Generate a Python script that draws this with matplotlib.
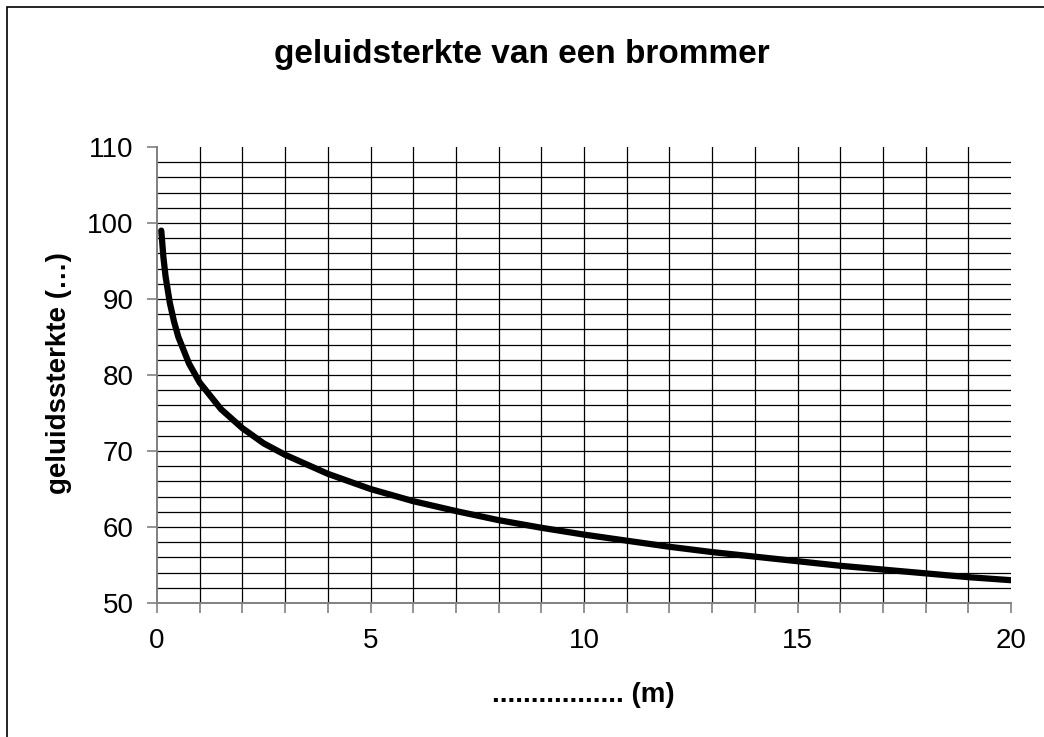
import matplotlib
matplotlib.use('Agg')
import matplotlib.pyplot as plt
from matplotlib.patches import Rectangle
import numpy as np

# afstand (m) en geluidsterkte
afstand = [0.1, 0.15, 0.2, 0.3, 0.4, 0.5, 0.75, 1, 1.5, 2, 2.5, 3, 4, 5, 6, 7, 8, 9, 10,
           11, 12, 13, 14, 15, 16, 17, 18, 19, 20]
sterkte = [99, 95.5, 93, 89.5, 87, 85, 81.5, 79, 75.5, 73, 71, 69.5, 67, 65, 63.4, 62.1,
           60.9, 59.9, 59, 58.2, 57.4, 56.7, 56.1, 55.5, 54.9, 54.4, 53.9, 53.4, 53]
x_ticks = [0, 5, 10, 15, 20]
y_ticks = [50, 60, 70, 80, 90, 100, 110]

plt.rcParams['font.family'] = ['Liberation Sans', 'DejaVu Sans']

fig = plt.figure(figsize=(10.44, 7.37), dpi=100)
ax = fig.add_axes([157/1044, 1 - 603/737, 854/1044, 456/737])

# rand om de figuur
fig.patches.append(Rectangle((7/1044, -0.1), 1.2, 1 - 7/737 + 0.1, transform=fig.transFigure,
                             fill=False, edgecolor='black', linewidth=1.2))

# rasterlijnen
for xv in range(1, 20):
    ax.axvline(xv, color='black', linewidth=0.9, zorder=1)
for yv in range(52, 110, 2):
    ax.axhline(yv, color='black', linewidth=0.9, zorder=1)

ax.plot(afstand, sterkte, color='black', linewidth=4.5, zorder=3, solid_capstyle='round')

ax.set_xlim(0, 20)
ax.set_ylim(50, 110)
ax.set_xticks(x_ticks)
ax.set_xticks(range(0, 21), minor=True)
ax.set_yticks(y_ticks)
ax.tick_params(axis='x', which='both', direction='out', length=7, color='#808080', width=1.2,
               labelsize=20, pad=11)
ax.tick_params(axis='y', direction='out', length=7, color='#808080', width=1.2, labelsize=20, pad=10)

for s in ['top', 'right']:
    ax.spines[s].set_visible(False)
for s in ['left', 'bottom']:
    ax.spines[s].set_color('#808080')
    ax.spines[s].set_linewidth(1.4)

fig.text(522/1044, 1 - 54/737, 'geluidsterkte van een brommer', fontsize=24, fontweight='bold',
         ha='center', va='center')
fig.text(583/1044, 1 - 695/737, '................. (m)', fontsize=20, fontweight='bold',
         ha='center', va='center')
fig.text(59/1044, 1 - 373/737, 'geluidssterkte (…)', fontsize=20, fontweight='bold',
         ha='center', va='center', rotation=90)

fig.savefig('out.png', dpi=100)
